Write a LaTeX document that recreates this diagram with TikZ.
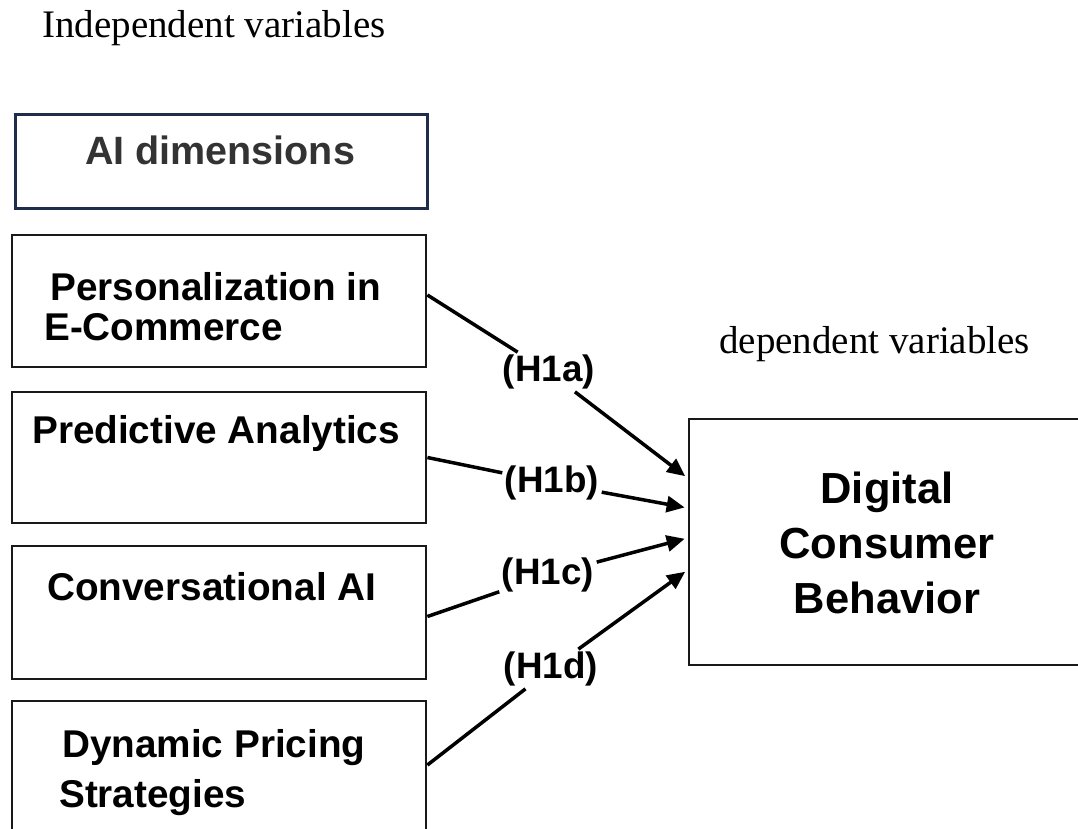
\documentclass[tikz,border=0pt]{standalone}
\usepackage{fontspec}
\setmainfont{Liberation Serif}
\setsansfont{Liberation Sans}
\usetikzlibrary{arrows.meta}
\definecolor{navy}{HTML}{1F2D4A}
\definecolor{txtgray}{HTML}{333333}
\tikzset{
  varbox/.style={draw=black!90, line width=2.8pt, rectangle, inner sep=0pt},
  boxtxt/.style={font=\sffamily\bfseries\fontsize{38.7}{40}\selectfont, inner sep=0pt, text=black},
  hyplbl/.style={font=\sffamily\bfseries\fontsize{36.8}{40}\selectfont, inner sep=2.5pt},
  conn/.style={line width=3.5pt, draw=black},
  arr/.style={conn, -{Triangle[length=18pt,width=16pt]}, shorten >=3pt},
  captxt/.style={font=\rmfamily\fontsize{39}{42}\selectfont, inner sep=0pt, anchor=base west}
}
\begin{document}
\begin{tikzpicture}[x=1pt,y=-1pt]
\useasboundingbox (0,0) rectangle (1078,829);
\clip (0,0) rectangle (1078,829);
\fill[white] (0,0) rectangle (1078,829);

% captions
\node[captxt] (indep) at (42,38) {Independent variables};
\node[captxt] (dep) at (719,353) {dependent variables};

% AI dimensions header
\node[rectangle, draw=navy, line width=3pt, minimum width=412pt, minimum height=93pt, inner sep=0pt] (aid) at (221,161.5) {};
\node[font=\sffamily\bfseries\fontsize{39.5}{40}\selectfont, text=txtgray, inner sep=0pt, anchor=base] (aidt) at (220,165) {AI dimensions};

% independent variable boxes
\node[varbox, minimum width=414pt, minimum height=132pt] (p1) at (219,301) {};
\node[varbox, minimum width=414pt, minimum height=131pt] (p2) at (219,457.5) {};
\node[varbox, minimum width=414pt, minimum height=133pt] (p3) at (219,612.5) {};
\node[varbox, minimum width=414pt, minimum height=140pt] (p4) at (219,771) {};

\node[boxtxt, anchor=base west, align=left] (p1t) at (44,340) {\hspace*{6pt}Personalization in\\E-Commerce};
\node[boxtxt, anchor=base west] (p2t) at (32,443) {Predictive Analytics};
\node[boxtxt, anchor=base west] (p3t) at (47,600) {Conversational AI};
\node[boxtxt, anchor=base west, align=left, font=\sffamily\bfseries\fontsize{38.7}{50}\selectfont] (p4t) at (59,807) {\hspace*{3pt}Dynamic Pricing\\Strategies};

% dependent variable box
\node[varbox, minimum width=420pt, minimum height=246pt] (dcb) at (899,542) {};
\node[font=\sffamily\bfseries\fontsize{43.5}{55}\selectfont, align=center, inner sep=0pt, anchor=base] (dcbt) at (887,613) {Digital\\Consumer\\Behavior};

% hypothesis labels
\node[hyplbl] (h1a) at (549,372) {(H1a)};
\node[hyplbl] (h1b) at (552,483) {(H1b)};
\node[hyplbl] (h1c) at (548,575) {(H1c)};
\node[hyplbl] (h1d) at (551,669) {(H1d)};

% targets on the dependent box
\coordinate (t1) at ([yshift=64pt]dcb.west);
\coordinate (t2) at ([yshift=34pt]dcb.west);
\coordinate (t3) at ([yshift=4pt]dcb.west);
\coordinate (t4) at ([yshift=-28pt]dcb.west);

% connectors
\draw[conn] ([yshift=6pt]p1.east) -- (h1a);
\draw[arr] (h1a) -- (t1);
\draw[conn] (p2.east) -- (h1b);
\draw[arr] (h1b) -- (t2);
\draw[conn] ([yshift=-4pt]p3.east) -- (h1c);
\draw[arr] (h1c) -- (t3);
\draw[conn] ([yshift=6pt]p4.east) -- (h1d);
\draw[arr] (h1d) -- (t4);
\end{tikzpicture}
\end{document}
